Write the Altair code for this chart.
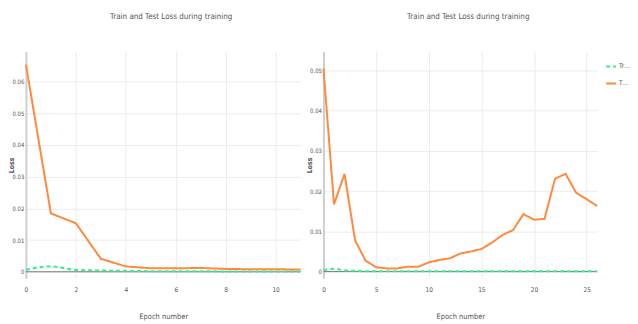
import altair as alt
import pandas as pd

left_epochs = list(range(12))
left_test = [0.0653, 0.0184, 0.0153, 0.0041, 0.0017, 0.0011, 0.0011, 0.0012, 0.0009, 0.0008, 0.0008, 0.0007]
left_train = [0.0006, 0.0017, 0.0006, 0.0004, 0.0003, 0.0002, 0.0002, 0.0002, 0.0001, 0.0001, 0.0001, 0.0001]

right_epochs = list(range(27))
right_test = [0.0505, 0.0167, 0.0243, 0.0078, 0.0027, 0.0011, 0.0008, 0.0008, 0.0012, 0.0012,
              0.0023, 0.0029, 0.0033, 0.0045, 0.0050, 0.0056, 0.0072, 0.0091, 0.0103, 0.0143,
              0.0129, 0.0131, 0.0231, 0.0243, 0.0196, 0.0180, 0.0163]
right_train = [0.0003, 0.0007, 0.0003, 0.0002, 0.0001, 0.0001, 0.0001, 0.0001, 0.0001, 0.0001,
               0.0001, 0.0001, 0.0001, 0.0001, 0.0001, 0.0001, 0.0001, 0.0001, 0.0001, 0.0001,
               0.0001, 0.0001, 0.0001, 0.0001, 0.0001, 0.0001, 0.0001]

series_names = ["Train loss", "Test loss"]
series_colors = ["#33ee8e", "#ff8a3d"]
title_text = "Train and Test Loss during training"
FONT = "DejaVu Sans Condensed, Liberation Sans Narrow, Liberation Sans, sans-serif"
TXT = "#555555"


def long_df(epochs, train, test):
    rows = []
    for e, v in zip(epochs, train):
        rows.append({"epoch": e, "loss": v, "series": series_names[0]})
    for e, v in zip(epochs, test):
        rows.append({"epoch": e, "loss": v, "series": series_names[1]})
    return pd.DataFrame(rows)


def panel(epochs, train, test, xmax, xvals, ydom, yvals, w, h, show_legend):
    df = long_df(epochs, train, test)
    xs = alt.X("epoch:Q", scale=alt.Scale(domain=[0, xmax], nice=False, zero=False),
               axis=alt.Axis(values=xvals, title="Epoch number", format="d",
                             grid=True, gridColor="#ececec", domain=False, ticks=False,
                             labelFont=FONT, labelFontSize=6.5, labelColor=TXT, labelPadding=8,
                             labelOverlap=False, labelFlush=False,
                             titleFont=FONT, titleFontSize=7.5, titleFontWeight="normal",
                             titleColor=TXT, titlePadding=20))
    ys = alt.Y("loss:Q", scale=alt.Scale(domain=ydom, nice=False, zero=False),
               axis=alt.Axis(values=yvals, title="Loss",
                             labelExpr="datum.value == 0 ? '0' : format(datum.value, '.2f')",
                             grid=True, gridColor="#ececec", domain=True, domainColor="#cfcfcf",
                             domainWidth=2, ticks=False,
                             labelFont=FONT, labelFontSize=6, labelColor=TXT, labelPadding=2,
                             labelOverlap=False, labelFlush=False, maxExtent=10,
                             titleFont=FONT, titleFontSize=7, titleFontWeight="bold",
                             titleColor=TXT, titlePadding=1))
    if show_legend:
        legend = alt.Legend(title=None, orient="none", legendX=w + 8, legendY=9, padding=0,
                            symbolType="stroke", symbolSize=100, symbolStrokeWidth=2,
                            labelFontSize=6.5, labelFont=FONT, labelColor=TXT, labelOffset=2,
                            labelLimit=11, rowPadding=7)
    else:
        legend = None
    color = alt.Color("series:N", scale=alt.Scale(domain=series_names, range=series_colors),
                      legend=legend)
    dash = alt.StrokeDash("series:N", scale=alt.Scale(domain=series_names, range=[[4, 3], [1, 0]]),
                          legend=legend)
    zero_df = pd.DataFrame({"loss": [0.0]})
    zero = alt.Chart(zero_df).mark_rule(color="#777", strokeWidth=1).encode(y=ys)
    lines_train = alt.Chart(df).transform_filter(alt.datum.series == series_names[0]).mark_line(
        strokeWidth=2, interpolate="monotone").encode(x=xs, y=ys, color=color, strokeDash=dash)
    lines_test = alt.Chart(df).transform_filter(alt.datum.series == series_names[1]).mark_line(
        strokeWidth=2, interpolate="linear").encode(x=xs, y=ys, color=color, strokeDash=dash)
    return alt.layer(zero, lines_train, lines_test).properties(
        width=w, height=h,
        view=alt.ViewBackground(stroke="transparent", strokeWidth=0),
        title=alt.TitleParams(title_text, fontSize=8, font=FONT, color=TXT,
                              fontWeight="normal", anchor="middle", dx=8, offset=31))


left = panel(left_epochs, left_train, left_test, 11, [0, 2, 4, 6, 8, 10],
             [-0.0021, 0.0694], [0, 0.01, 0.02, 0.03, 0.04, 0.05, 0.06], 276, 228, False)
right = panel(right_epochs, right_train, right_test, 26, [0, 5, 10, 15, 20, 25],
              [-0.0017, 0.0547], [0, 0.01, 0.02, 0.03, 0.04, 0.05], 275, 228, True)

chart = alt.hconcat(left, right, spacing=23, bounds="flush").resolve_scale(
    x="independent", y="independent", color="independent", strokeDash="independent"
).resolve_legend(
    color="independent", strokeDash="independent"
).properties(
    padding={"left": 0, "top": 4, "right": 0, "bottom": 0}
).configure_view(stroke="transparent", strokeWidth=0).configure(background="white")

chart.save("out.html", embed_options={"renderer": "svg", "actions": False})
